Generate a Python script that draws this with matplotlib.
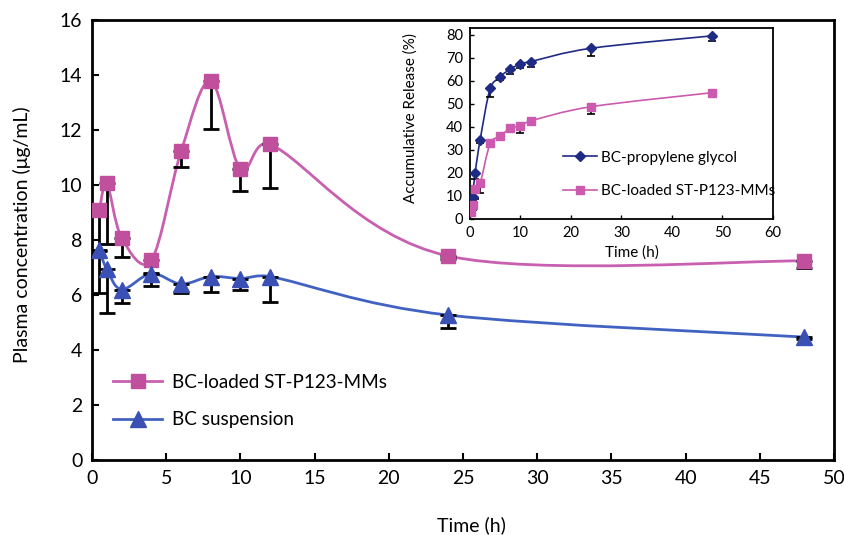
import numpy as np
import matplotlib.pyplot as plt
from matplotlib.path import Path
from matplotlib.patches import PathPatch
from matplotlib.lines import Line2D

plt.rcParams['font.family'] = ['Lato', 'DejaVu Sans']

# Plasma concentration data (main plot)
time = [0.5, 1, 2, 4, 6, 8, 10, 12, 24, 48]
micelles = [9.09, 10.06, 8.08, 7.27, 11.22, 13.78, 10.58, 11.48, 7.42, 7.24]
micellesSD = [1.49, 2.21, 0.70, 0.47, 0.58, 1.74, 0.80, 1.60, 0.12, 0.27]
suspension = [7.64, 6.93, 6.20, 6.78, 6.40, 6.67, 6.60, 6.67, 5.27, 4.47]
suspensionSD = [1.57, 1.58, 0.50, 0.45, 0.33, 0.55, 0.40, 0.91, 0.47, 0.07]

# In vitro release data (inset)
releaseTimeGlycol = [0.5, 1, 2, 4, 6, 8, 10, 12, 24, 48]
glycol = [9.5, 19.8, 34.3, 56.8, 61.9, 65.2, 67.4, 68.4, 74.2, 79.6]
glycolSD = [1.5, 2.5, 1.1, 3.6, 1.5, 2.2, 1.9, 2.2, 3.3, 2.2]
releaseTimeMM = [0.25, 0.5, 1, 2, 4, 6, 8, 10, 12, 24, 48]
releaseMM = [3.2, 6.1, 12.9, 15.5, 32.9, 36.2, 39.4, 40.6, 42.6, 48.8, 54.9]
releaseMMSD = [2.0, 2.0, 4.0, 4.1, 1.5, 1.5, 1.4, 3.3, 1.7, 3.1, 0.6]

mainX = np.arange(0, 51, 5)
mainY = np.arange(0, 17, 2)
insetX = np.arange(0, 61, 10)
insetY = np.arange(0, 81, 10)

magenta = '#C0509E'
magentaLine = '#C95FB0'
blue = '#3A50B5'
blueLine = '#4262C2'
navy = '#1F2A85'
pink = '#CC5AAE'


def smooth(ax, x, y, color, lw, zorder):
    # Excel-like smoothed line: Catmull-Rom Bezier in screen space,
    # control arm limited to half the segment length
    P = ax.transData.transform(np.column_stack([x, y]))
    ext = np.vstack([P[0], P, P[-1]])
    verts = [P[0]]
    codes = [Path.MOVETO]
    for i in range(len(P) - 1):
        p0, p1, p2, p3 = ext[i], ext[i + 1], ext[i + 2], ext[i + 3]
        d12 = np.hypot(*(p2 - p1))
        d02 = np.hypot(*(p2 - p0))
        d13 = np.hypot(*(p3 - p1))
        f1 = 1 / 6 if d02 / 6 < d12 / 2 else d12 / (2 * d02)
        f2 = 1 / 6 if d13 / 6 < d12 / 2 else d12 / (2 * d13)
        c1 = p1 + f1 * (p2 - p0)
        c2 = p2 - f2 * (p3 - p1)
        verts += [c1, c2, p2]
        codes += [Path.CURVE4] * 3
    verts = ax.transData.inverted().transform(np.array(verts))
    ax.add_patch(PathPatch(Path(verts, codes), facecolor='none', edgecolor=color,
                           lw=lw, zorder=zorder, capstyle='round'))


fig = plt.figure(figsize=(8.45, 5.35), dpi=100)

# Main plot
ax = fig.add_axes([92 / 845, 1 - 460 / 535, 742 / 845, 440 / 535])
ax.set_xlim(0, 50)
ax.set_ylim(0, 16)
ax.set_xticks(mainX)
ax.set_yticks(mainY)
ax.tick_params(direction='in', length=5, width=1.5, labelsize=14, pad=7)
for s in ax.spines.values():
    s.set_linewidth(2)

smooth(ax, time, micelles, magentaLine, 2.0, 2)
smooth(ax, time, suspension, blueLine, 2.0, 2)
ax.errorbar(time, micelles, yerr=[micellesSD, np.zeros(len(time))], fmt='none',
            ecolor='black', elinewidth=2, capsize=6, capthick=2, zorder=3)
ax.errorbar(time, suspension, yerr=[suspensionSD, np.zeros(len(time))], fmt='none',
            ecolor='black', elinewidth=2, capsize=6, capthick=2, zorder=3)
ax.plot(time, micelles, 's', color=magenta, ms=9.5, zorder=4)
ax.plot(time, suspension, '^', color=blue, ms=11, zorder=4)

ax.set_xlabel('Time (h)', fontsize=14)
ax.set_ylabel('Plasma concentration (μg/mL)', fontsize=14)
ax.xaxis.label.set_va('center')
ax.yaxis.label.set_va('center')
ax.xaxis.set_label_coords(0.512, -0.148)
ax.yaxis.set_label_coords(-0.094, 0.511)

handles = [Line2D([], [], color=magentaLine, lw=2, marker='s', ms=9.5, mfc=magenta, mec=magenta),
           Line2D([], [], color=blueLine, lw=2, marker='^', ms=11, mfc=blue, mec=blue)]
ax.legend(handles, ['BC-loaded ST-P123-MMs', 'BC suspension'], loc='center left',
          bbox_to_anchor=(113 / 845, 1 - 401 / 535), bbox_transform=fig.transFigure,
          frameon=False, fontsize=13.6, handlelength=2.6, handletextpad=0.5,
          labelspacing=1.1, borderpad=0, borderaxespad=0)

# Inset: in vitro release
ins = fig.add_axes([470 / 845, 1 - 219 / 535, 303 / 845, 191 / 535])
ins.set_facecolor('white')
ins.set_xlim(0, 60)
ins.set_ylim(0, 83)
ins.set_xticks(insetX)
ins.set_yticks(insetY)
ins.tick_params(direction='in', length=3, width=1, labelsize=10.5, pad=5)
for s in ins.spines.values():
    s.set_linewidth(1.3)

smooth(ins, releaseTimeGlycol, glycol, navy, 1.2, 2)
smooth(ins, releaseTimeMM, releaseMM, pink, 1.2, 2)
ins.errorbar(releaseTimeGlycol, glycol, yerr=[glycolSD, np.zeros(len(glycol))], fmt='none',
             ecolor='black', elinewidth=1.2, capsize=3, capthick=1.2, zorder=3)
ins.errorbar(releaseTimeMM, releaseMM, yerr=[releaseMMSD, np.zeros(len(releaseMM))], fmt='none',
             ecolor='black', elinewidth=1.2, capsize=3, capthick=1.2, zorder=3)
ins.plot(releaseTimeGlycol, glycol, 'D', color=navy, ms=5, zorder=4)
ins.plot(releaseTimeMM, releaseMM, 's', color=pink, ms=6, zorder=4)

ins.set_xlabel('Time (h)', fontsize=11)
ins.set_ylabel('Accumulative Release (%)', fontsize=11)
ins.xaxis.label.set_va('center')
ins.yaxis.label.set_va('center')
ins.xaxis.set_label_coords(0.533, -0.176)
ins.yaxis.set_label_coords(-0.195, 0.531)

insHandles = [Line2D([], [], color=navy, lw=1.2, marker='D', ms=5),
              Line2D([], [], color=pink, lw=1.2, marker='s', ms=6)]
ins.legend(insHandles, ['BC-propylene glycol', 'BC-loaded ST-P123-MMs'], loc='center left',
           bbox_to_anchor=(563 / 845, 1 - 174.5 / 535), bbox_transform=fig.transFigure,
           frameon=False, fontsize=11, handlelength=2.2, handletextpad=0.3,
           labelspacing=1.3, borderpad=0, borderaxespad=0)

fig.savefig('out.png', dpi=100)
